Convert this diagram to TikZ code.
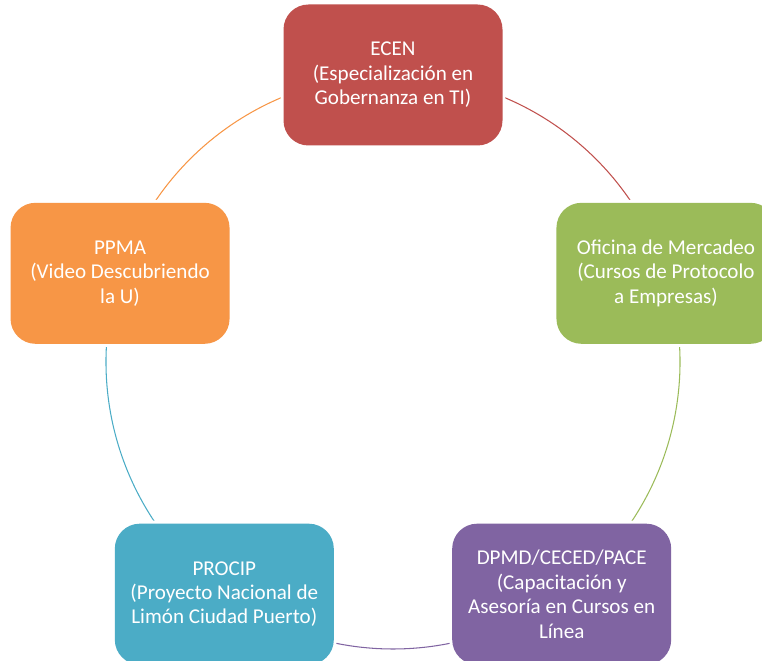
\documentclass[tikz,border=0pt]{standalone}
\usepackage{fontspec}
\setmainfont{Carlito}
\usepackage{xcolor}
\usetikzlibrary{backgrounds}
\definecolor{ecenred}{HTML}{C0504D}
\definecolor{mercgreen}{HTML}{9BBB59}
\definecolor{dpmdpurple}{HTML}{8064A2}
\definecolor{procipteal}{HTML}{4BACC6}
\definecolor{ppmaorange}{HTML}{F79646}

\begin{document}
\begin{tikzpicture}[
    box/.style={rounded corners=0.5cm, minimum width=4.38cm, minimum height=2.82cm,
        inner sep=0pt, align=center, text=white,
        font=\fontsize{12pt}{13.9pt}\selectfont,
        preaction={draw=white, line width=3.4pt}},
    cyclearc/.style={line width=0.6pt}
    ]
        \useasboundingbox (0,0) rectangle (15.24,13.22);
        \def\R{5.74}
        \coordinate (c) at (7.86,5.98);

        % Boxes round the circle
        \node[box, fill=ecenred] (ecen) at ([shift={(90:\R)}]c)
            {ECEN\\(Especialización en\\Gobernanza en TI)};
        \node[box, fill=mercgreen] (merc) at ([shift={(18:\R)}]c)
            {Oficina de Mercadeo\\(Cursos de Protocolo\\a Empresas)};
        \node[box, fill=dpmdpurple] (dpmd) at ([shift={(-54:\R)}]c)
            {DPMD/CECED/PACE\\(Capacitación y\\Asesoría en Cursos en\\Línea};
        \node[box, fill=procipteal] (procip) at ([shift={(-126:\R)}]c)
            {PROCIP\\(Proyecto Nacional de\\Limón Ciudad Puerto)};
        \node[box, fill=ppmaorange] (ppma) at ([shift={(162:\R)}]c)
            {PPMA\\(Video Descubriendo\\la U)};

        % Arcs between the boxes
        \begin{scope}[on background layer]
            \draw[cyclearc, ecenred] (ecen.center) arc[start angle=90, end angle=18, radius=\R];
            \draw[cyclearc, mercgreen] (merc.center) arc[start angle=18, end angle=-54, radius=\R];
            \draw[cyclearc, dpmdpurple] (dpmd.center) arc[start angle=-54, end angle=-126, radius=\R];
            \draw[cyclearc, procipteal] (procip.center) arc[start angle=-126, end angle=-198, radius=\R];
            \draw[cyclearc, ppmaorange] (ppma.center) arc[start angle=162, end angle=90, radius=\R];
        \end{scope}
    \end{tikzpicture}
\end{document}
